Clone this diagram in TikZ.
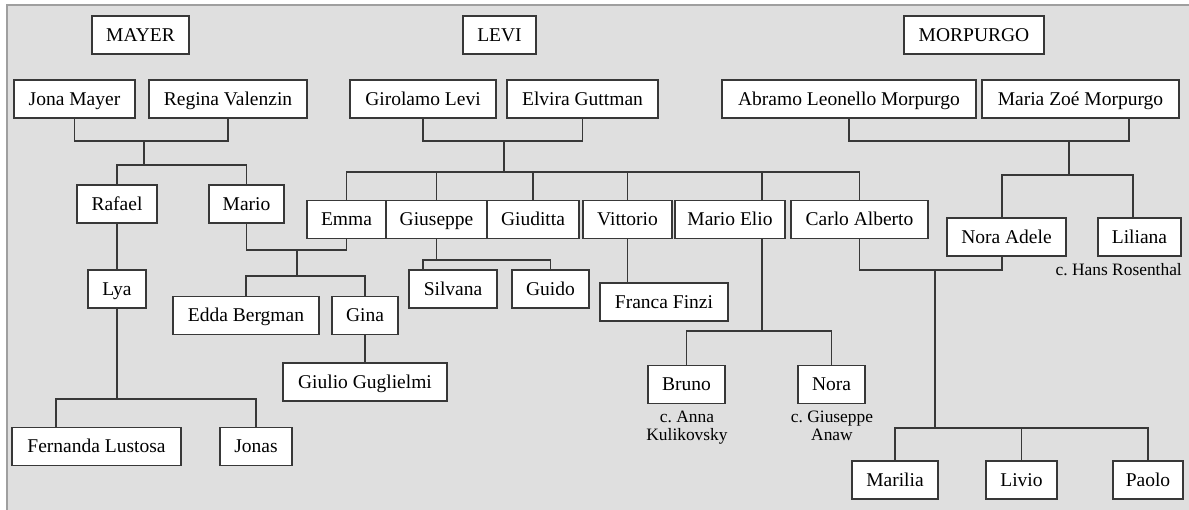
\documentclass[tikz,border=0pt]{standalone}
\usepackage{fontspec}
\setmainfont{Liberation Serif}
\frenchspacing
\colorlet{paper}{gray!25}
\colorlet{rim}{gray!75}
\colorlet{ink}{black!78}
\tikzset{
  person/.style = {
    draw=ink, fill=white, line width=1.3pt,
    inner xsep=0pt, inner ysep=0pt,
    minimum height=38pt, text height=13pt, text depth=0pt,
    font=\fontsize{19.5}{22}\selectfont
  },
  spouse/.style = {align=center, inner sep=0pt, font=\fontsize{17.4}{18}\selectfont},
  link/.style = {draw=ink, line width=1.4pt}
}

\begin{document}
\begin{tikzpicture}[x=1pt,y=-1pt]
  \useasboundingbox (0,0) rectangle (1189,510);
  \fill[paper] (7,5) rectangle (1189,510);
  \draw[rim,line width=1.3pt] (7,510) -- (7,5) -- (1189,5);

  \node[person,minimum width=97pt]  (mayer)    at (140.5,35) {MAYER};
  \node[person,minimum width=73pt]  (levi)     at (499.5,35) {LEVI};
  \node[person,minimum width=140pt] (morpurgo) at (974,35)   {MORPURGO};

  \node[person,minimum width=121pt] (jona)     at (74.5,99)  {Jona Mayer};
  \node[person,minimum width=158pt] (regina)   at (228,99)   {Regina Valenzin};
  \node[person,minimum width=146pt] (girolamo) at (423,99)   {Girolamo Levi};
  \node[person,minimum width=151pt] (elvira)   at (582.5,99) {Elvira Guttman};
  \node[person,minimum width=254pt] (abramo)   at (849,99)   {Abramo Leonello Morpurgo};
  \node[person,minimum width=197pt] (mariaz)   at (1080.5,99) {Maria Zoé Morpurgo};

  \node[person,minimum width=80pt]  (rafael)   at (117,204)  {Rafael};
  \node[person,minimum width=75pt]  (mario)    at (246.5,204) {Mario};

  \node[person,minimum width=79pt]  (emma)      at (346.5,219.5) {Emma};
  \node[person,minimum width=101pt] (giuseppe)  at (436.5,219.5) {Giuseppe};
  \node[person,minimum width=92pt]  (giuditta)  at (533,219.5)   {Giuditta};
  \node[person,minimum width=89pt]  (vittorio)  at (627.5,219.5) {Vittorio};
  \node[person,minimum width=110pt] (marioelio) at (730,219.5)   {Mario Elio};
  \node[person,minimum width=137pt] (carlo)     at (859.5,219.5) {Carlo Alberto};

  \node[person,minimum width=119pt] (noraad)  at (1006.5,237) {Nora Adele};
  \node[person,minimum width=83pt]  (liliana) at (1139.5,237) {Liliana};
  \node[spouse,anchor=base east] (hans) at (1182,276) {c. Hans Rosenthal};

  \node[person,minimum width=58pt]  (lya)     at (117,289)   {Lya};
  \node[person,minimum width=88pt]  (silvana) at (453,289)   {Silvana};
  \node[person,minimum width=77pt]  (guido)   at (550.5,289) {Guido};
  \node[person,minimum width=128pt] (franca)  at (664,302)   {Franca Finzi};
  \node[person,minimum width=146pt] (edda)    at (246,315.5) {Edda Bergman};
  \node[person,minimum width=66pt]  (gina)    at (365,315.5) {Gina};
  \node[person,minimum width=164pt] (giulio)  at (365,382)   {Giulio Guglielmi};

  \node[person,minimum width=77pt] (bruno) at (686.5,384.5) {Bruno};
  \node[person,minimum width=67pt] (nora)  at (831.5,384.5) {Nora};
  \node[spouse,anchor=north] (anna)    at (687,411) {c. Anna\\Kulikovsky};
  \node[spouse,anchor=north] (giusepa) at (832,411) {c. Giuseppe\\Anaw};

  \node[person,minimum width=169pt] (fernanda) at (96.5,446.5) {Fernanda Lustosa};
  \node[person,minimum width=72pt]  (jonas)    at (256,446.5)  {Jonas};
  \node[person,minimum width=86pt]  (marilia)  at (895,480)    {Marilia};
  \node[person,minimum width=71pt]  (livio)    at (1021.5,480) {Livio};
  \node[person,minimum width=70pt]  (paolo)    at (1148,480)   {Paolo};

  \coordinate (mj)   at (144,141);
  \coordinate (kj)   at (144,165);
  \coordinate (lm)   at (504,141);
  \coordinate (lk)   at (504,172);
  \coordinate (mm)   at (1069,141);
  \coordinate (mk)   at (1069,175);
  \coordinate (em)   at (297,250);
  \coordinate (ek)   at (297,276);
  \coordinate (gk)   at (436.5,260);
  \coordinate (cn)   at (935,270);
  \coordinate (cnk)  at (935,428);
  \coordinate (mek)  at (762,331);
  \coordinate (lyak) at (117,399);

  \draw[link] (jona.south) |- (mj) -| (regina.south);
  \draw[link] (mj) -- (kj);
  \draw[link] (rafael.north) |- (kj) -| (mario.north);
  \draw[link] (rafael.south) -- (lya.north);
  \draw[link] (lya.south) -- (lyak);
  \draw[link] ([xshift=-40.5pt]fernanda.north) |- (lyak) -| (jonas.north);

  \draw[link] (mario.south) |- (em) -| (emma.south);
  \draw[link] (em) -- (ek);
  \draw[link] (edda.north) |- (ek) -| (gina.north);
  \draw[link] (gina.south) -- (giulio.north);

  \draw[link] (girolamo.south) |- (lm) -| (elvira.south);
  \draw[link] (lm) -- (lk);
  \draw[link] (emma.north) |- (lk) -| (carlo.north);
  \foreach \kid in {giuseppe,giuditta,vittorio}
    \draw[link] (\kid.north) -- (\kid.north |- lk);
  \draw[link] ([xshift=32pt]marioelio.north) -- ([xshift=32pt]marioelio.north |- lk);

  \draw[link] (giuseppe.south) -- (gk);
  \draw[link] ([xshift=-30pt]silvana.north) |- (gk) -| (guido.north);
  \draw[link] (vittorio.south) -- (vittorio.south |- franca.north);
  \draw[link] ([xshift=32pt]marioelio.south) -- (mek);
  \draw[link] (bruno.north) |- (mek) -| (nora.north);

  \draw[link] (abramo.south) |- (mm) -| ([xshift=48.5pt]mariaz.south);
  \draw[link] (mm) -- (mk);
  \draw[link] ([xshift=-4.5pt]noraad.north) |- (mk) -| ([xshift=-6.5pt]liliana.north);

  \draw[link] (carlo.south) |- (cn) -| ([xshift=-4.5pt]noraad.south);
  \draw[link] (cn) -- (cnk);
  \draw[link] (marilia.north) |- (cnk) -| (paolo.north);
  \draw[link] (livio.north) -- (livio.north |- cnk);
\end{tikzpicture}
\end{document}
